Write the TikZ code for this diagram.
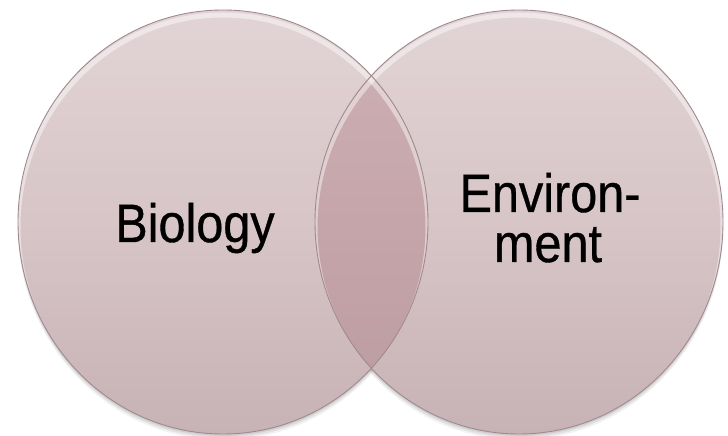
\documentclass[tikz,border=0pt]{standalone}
\usepackage{fontspec}
\setmainfont{Liberation Sans}
\newfontfamily\lblfont{Liberation Sans}[RawFeature={embolden=0.7}]
\begin{document}
\begin{tikzpicture}[x=1pt,y=1pt,
  petalshade/.style={top color=petalTop, bottom color=petalBot, middle color=petalMid},
  lapshade/.style={top color=lapTop, bottom color=lapBot, middle color=lapMid},
  rim/.style={draw=rimc, line width=0.9pt},
  lbl/.style={font=\lblfont\fontsize{54}{60}\selectfont, text=black, inner sep=0pt, anchor=base}]
\definecolor{petalTop}{RGB}{226,212,214}
\definecolor{petalMid}{RGB}{215,197,199}
\definecolor{petalBot}{RGB}{199,178,181}
\definecolor{lapTop}{RGB}{206,178,182}
\definecolor{lapMid}{RGB}{197,165,169}
\definecolor{lapBot}{RGB}{186,155,159}
\definecolor{rimc}{RGB}{160,138,143}
\useasboundingbox (0,0) rectangle (728,436);
% soft drop shadow under both sets
\foreach \d/\o in {6/0.05,4/0.07,2/0.09}{
  \fill[black, opacity=\o] (223,214-\d) ellipse [x radius=205, y radius=212];
  \fill[black, opacity=\o] (519,214-\d) ellipse [x radius=204, y radius=212];
}
% the two sets
\shade[petalshade] (223,214) ellipse [x radius=205, y radius=212];
\shade[petalshade] (519,214) ellipse [x radius=204, y radius=212];
% the shared region
\begin{scope}
  \clip (223,214) ellipse [x radius=205, y radius=212];
  \shade[lapshade] (519,214) ellipse [x radius=204, y radius=212];
\end{scope}
% bevel highlight along the top inner edge
\begin{scope}
  \clip (223,214) ellipse [x radius=205, y radius=212];
  \draw[white, line width=5pt, opacity=0.45] (223,209) ellipse [x radius=205, y radius=212];
\end{scope}
\begin{scope}
  \clip (519,214) ellipse [x radius=204, y radius=212];
  \draw[white, line width=5pt, opacity=0.45] (519,209) ellipse [x radius=204, y radius=212];
\end{scope}
% outlines
\draw[rim] (223,214) ellipse [x radius=205, y radius=212];
\draw[rim] (519,214) ellipse [x radius=204, y radius=212];
% labels
\node[lbl] (bio) at (195,194) {\scalebox{0.9}[1]{Biology}};
\node[lbl] (env) at (550,224) {\scalebox{0.9}[1]{Environ-}};
\node[lbl] (ment) at (548,174) {\scalebox{0.9}[1]{ment}};
\end{tikzpicture}
\end{document}
